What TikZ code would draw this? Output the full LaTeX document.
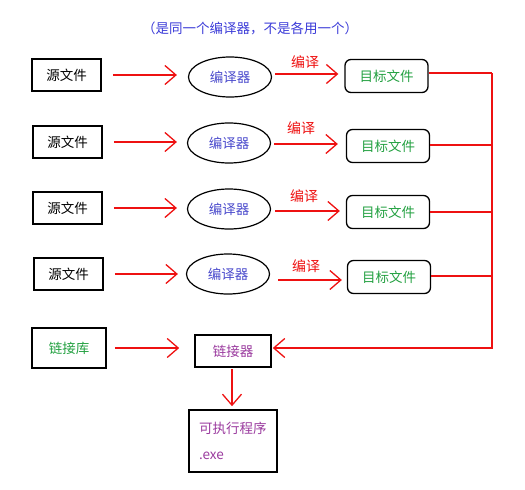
\documentclass[tikz,border=0pt]{standalone}
\usepackage{fontspec}
\setmainfont{Noto Sans CJK SC}
\usetikzlibrary{arrows.meta,shapes.geometric}
\definecolor{tblue}{HTML}{3C3CD8}
\definecolor{cblue}{HTML}{4A4ACC}
\definecolor{tgreen}{HTML}{22A040}
\definecolor{tpurple}{HTML}{9A3A9E}
\definecolor{tred}{HTML}{EE1111}
\begin{document}
\begin{tikzpicture}[x=1pt,y=-1pt,
  font=\fontsize{13.5}{26}\selectfont,
  srcbox/.style={draw=black,line width=1.6pt,inner sep=0pt,minimum width=69pt,minimum height=32pt},
  compbox/.style={draw=black,line width=1.2pt,ellipse,inner sep=0pt,minimum width=83pt,minimum height=40pt,text=cblue},
  objbox/.style={draw=black,line width=1.3pt,rounded corners=6pt,inner sep=0pt,minimum width=83pt,minimum height=33pt,text=tgreen},
  redarrow/.style={draw=tred,line width=1.3pt,-{Straight Barb[length=11pt,width=19pt,line width=1.3pt]}},
  redline/.style={draw=tred,line width=1.3pt},
  lbl/.style={text=tred,inner sep=0pt,font=\fontsize{14}{16}\selectfont}
]
\useasboundingbox (0,0) rectangle (525,490);
\node[text=tblue] (title) at (250,28) {（是同一个编译器，不是各用一个）};

% row 1
\node[srcbox] (s1) at (66.5,75) {源文件};
\node[compbox] (c1) at (230,77) {编译器};
\node[objbox] (t1) at (386.5,76) {目标文件};
% row 2
\node[srcbox] (s2) at (67.5,142) {源文件};
\node[compbox] (c2) at (229,143) {编译器};
\node[objbox] (t2) at (388,146) {目标文件};
% row 3
\node[srcbox] (s3) at (67.5,208) {源文件};
\node[compbox] (c3) at (229,209) {编译器};
\node[objbox] (t3) at (388,212) {目标文件};
% row 4
\node[srcbox] (s4) at (68.5,274) {源文件};
\node[compbox] (c4) at (228,274) {编译器};
\node[objbox] (t4) at (389,277) {目标文件};
% bottom
\node[srcbox,minimum width=74pt,minimum height=40pt,text=tgreen] (lib) at (69,348) {链接库};
\node[srcbox,minimum width=76pt,minimum height=32pt,text=tpurple] (link) at (233,351) {链接器};
\node[draw=black,line width=1.6pt,inner xsep=10pt,inner ysep=0pt,text width=68pt,align=left,minimum height=62pt,text=tpurple] (exe) at (233,441) {可执行程序\\.exe};

\coordinate (bus) at (492,73);

% labels
\node[lbl] (l1) at (305,62) {编译};
\node[lbl] (l2) at (301,128) {编译};
\node[lbl] (l3) at (304,196) {编译};
\node[lbl] (l4) at (306,266) {编译};

% arrows source -> compiler
\draw[redarrow,shorten <=11pt,shorten >=11pt] (s1.east) -- (s1.east -| c1.west);
\draw[redarrow,shorten <=11pt,shorten >=10pt] (s2.east) -- (s2.east -| c2.west);
\draw[redarrow,shorten <=11pt,shorten >=10pt] (s3.east) -- (s3.east -| c3.west);
\draw[redarrow,shorten <=11pt,shorten >=8pt] (s4.east) -- (s4.east -| c4.west);
% compiler -> object
\draw[redarrow,shorten <=3pt,shorten >=6pt] (c1.east |- 0,74) -- (t1.west |- 0,74);
\draw[redarrow,shorten <=3pt,shorten >=8pt] (c2.east |- 0,144) -- (t2.west |- 0,144);
\draw[redarrow,shorten <=4pt,shorten >=6pt] (c3.east |- 0,211) -- (t3.west |- 0,211);
\draw[redarrow,shorten <=8pt,shorten >=5pt] (c4.east |- 0,280) -- (t4.west |- 0,280);
% object -> bus
\draw[redline] (t1.east |- 0,73) -- (bus);
\draw[redline] (t2.east |- 0,145) -- (bus |- 0,145);
\draw[redline] (t3.east |- 0,212) -- (bus |- 0,212);
\draw[redline] (t4.east |- 0,276) -- (bus |- 0,276);
\draw[redarrow,shorten >=1pt] (bus) |- (link.east |- 0,348);
% lib -> linker
\draw[redarrow,shorten <=8pt,shorten >=15pt] (lib.east) -- (lib.east -| link.west);
% linker -> exe
\draw[redarrow,shorten <=1pt,shorten >=3pt] (link.south -| 232,0) -- (exe.north -| 232,0);
\end{tikzpicture}
\end{document}
